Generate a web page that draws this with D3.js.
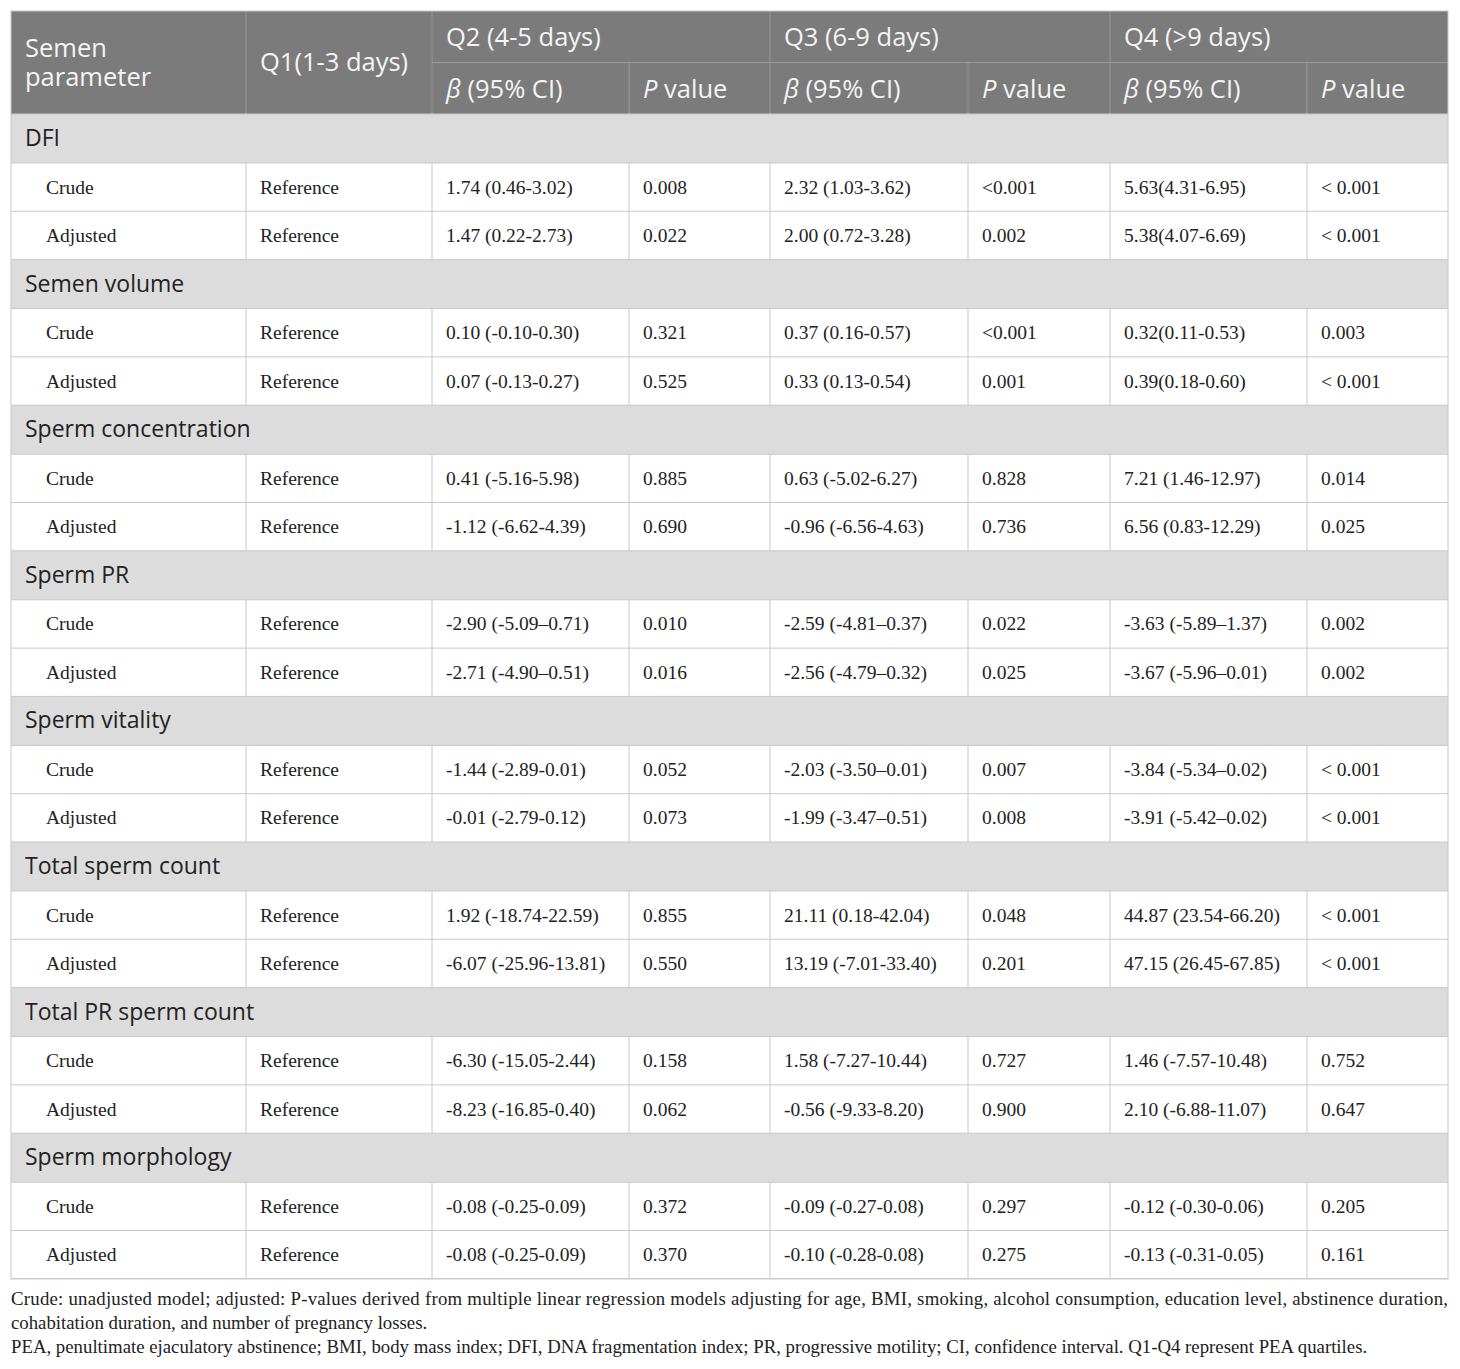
<!DOCTYPE html>
<html>
<head>
<meta charset="utf-8">
<script src="https://d3js.org/d3.v7.min.js"></script>
<style>
  body { margin: 0; background: #fff; }
  .hd { font-family: "Open Sans", sans-serif; font-size: 25.5px; fill: #f4f4f4; }
  .grp { font-family: "Open Sans", sans-serif; font-size: 23px; fill: #222; }
  .cell { font-family: "Liberation Serif", "Times New Roman", serif; font-size: 19.5px; fill: #222; }
  .note { font-family: "Liberation Serif", "Times New Roman", serif; font-size: 18.8px; fill: #222; }
</style>
</head>
<body>
<div id="chart"></div>
<script>
// table content
const parameters = ["DFI", "Semen volume", "Sperm concentration", "Sperm PR",
  "Sperm vitality", "Total sperm count", "Total PR sperm count", "Sperm morphology"];
const models = ["Crude", "Adjusted"];
const quartiles = ["Q2 (4-5 days)", "Q3 (6-9 days)", "Q4 (>9 days)"];

// beta (95% CI) per parameter: [Q2, Q3, Q4]
const crudeBeta = [
  ["1.74 (0.46-3.02)", "2.32 (1.03-3.62)", "5.63(4.31-6.95)"],
  ["0.10 (-0.10-0.30)", "0.37 (0.16-0.57)", "0.32(0.11-0.53)"],
  ["0.41 (-5.16-5.98)", "0.63 (-5.02-6.27)", "7.21 (1.46-12.97)"],
  ["-2.90 (-5.09\u20130.71)", "-2.59 (-4.81\u20130.37)", "-3.63 (-5.89\u20131.37)"],
  ["-1.44 (-2.89-0.01)", "-2.03 (-3.50\u20130.01)", "-3.84 (-5.34\u20130.02)"],
  ["1.92 (-18.74-22.59)", "21.11 (0.18-42.04)", "44.87 (23.54-66.20)"],
  ["-6.30 (-15.05-2.44)", "1.58 (-7.27-10.44)", "1.46 (-7.57-10.48)"],
  ["-0.08 (-0.25-0.09)", "-0.09 (-0.27-0.08)", "-0.12 (-0.30-0.06)"]
];
const crudeP = [
  ["0.008", "<0.001", "< 0.001"],
  ["0.321", "<0.001", "0.003"],
  ["0.885", "0.828", "0.014"],
  ["0.010", "0.022", "0.002"],
  ["0.052", "0.007", "< 0.001"],
  ["0.855", "0.048", "< 0.001"],
  ["0.158", "0.727", "0.752"],
  ["0.372", "0.297", "0.205"]
];
const adjustedBeta = [
  ["1.47 (0.22-2.73)", "2.00 (0.72-3.28)", "5.38(4.07-6.69)"],
  ["0.07 (-0.13-0.27)", "0.33 (0.13-0.54)", "0.39(0.18-0.60)"],
  ["-1.12 (-6.62-4.39)", "-0.96 (-6.56-4.63)", "6.56 (0.83-12.29)"],
  ["-2.71 (-4.90\u20130.51)", "-2.56 (-4.79\u20130.32)", "-3.67 (-5.96\u20130.01)"],
  ["-0.01 (-2.79-0.12)", "-1.99 (-3.47\u20130.51)", "-3.91 (-5.42\u20130.02)"],
  ["-6.07 (-25.96-13.81)", "13.19 (-7.01-33.40)", "47.15 (26.45-67.85)"],
  ["-8.23 (-16.85-0.40)", "-0.56 (-9.33-8.20)", "2.10 (-6.88-11.07)"],
  ["-0.08 (-0.25-0.09)", "-0.10 (-0.28-0.08)", "-0.13 (-0.31-0.05)"]
];
const adjustedP = [
  ["0.022", "0.002", "< 0.001"],
  ["0.525", "0.001", "< 0.001"],
  ["0.690", "0.736", "0.025"],
  ["0.016", "0.025", "0.002"],
  ["0.073", "0.008", "< 0.001"],
  ["0.550", "0.201", "< 0.001"],
  ["0.062", "0.900", "0.647"],
  ["0.370", "0.275", "0.161"]
];
const notes = [
  "Crude: unadjusted model; adjusted: P-values derived from multiple linear regression models adjusting for age, BMI, smoking, alcohol consumption, education level, abstinence duration,",
  "cohabitation duration, and number of pregnancy losses.",
  "PEA, penultimate ejaculatory abstinence; BMI, body mass index; DFI, DNA fragmentation index; PR, progressive motility; CI, confidence interval. Q1-Q4 represent PEA quartiles."
];

// layout
const W = 1460, H = 1369;
const tLeft = 11, tRight = 1448, tTop = 11;
const colWidths = [235, 186, 197, 141, 198, 142, 197, 141];
const headRow = 51.5, groupRow = 49, dataRow = 48.3;
const colX = [tLeft];
colWidths.forEach(w => colX.push(colX[colX.length - 1] + w));

const svg = d3.select("#chart").append("svg")
  .attr("width", W).attr("height", H);

const headBg = "#7b7b7b", headLine = "#9a9a9a", grpBg = "#dcdcdc", lineCol = "#c8c8c8";

// header
const headTop = tTop, headBottom = tTop + 2 * headRow;
svg.append("rect").attr("x", tLeft).attr("y", headTop)
  .attr("width", tRight - tLeft).attr("height", headBottom - headTop).attr("fill", headBg);

const hd = svg.append("g");
[1, 2, 4, 6].forEach(i => hd.append("line")
  .attr("x1", colX[i]).attr("x2", colX[i]).attr("y1", headTop).attr("y2", headBottom)
  .attr("stroke", headLine));
[3, 5, 7].forEach(i => hd.append("line")
  .attr("x1", colX[i]).attr("x2", colX[i]).attr("y1", headTop + headRow).attr("y2", headBottom)
  .attr("stroke", headLine));
hd.append("line").attr("x1", colX[2]).attr("x2", tRight)
  .attr("y1", headTop + headRow).attr("y2", headTop + headRow).attr("stroke", headLine);

// two-line first header, one text element
const sp = hd.append("text").attr("class", "hd").attr("x", tLeft + 14).attr("y", headTop + 46);
sp.append("tspan").attr("x", tLeft + 14).text("Semen");
sp.append("tspan").attr("x", tLeft + 14).attr("dy", 29).text("parameter");

hd.append("text").attr("class", "hd").attr("x", colX[1] + 14).attr("y", headTop + 60).text("Q1(1-3 days)");
quartiles.forEach((q, i) => {
  const x0 = colX[2 + i * 2], x1 = colX[3 + i * 2];
  hd.append("text").attr("class", "hd").attr("x", x0 + 14).attr("y", headTop + 35).text(q);
  const b = hd.append("text").attr("class", "hd").attr("x", x0 + 14).attr("y", headTop + headRow + 35);
  b.append("tspan").attr("font-style", "italic").text("\u03b2");
  b.append("tspan").text(" (95% CI)");
  const p = hd.append("text").attr("class", "hd").attr("x", x1 + 14).attr("y", headTop + headRow + 35);
  p.append("tspan").attr("font-style", "italic").text("P");
  p.append("tspan").text(" value");
});

// body
let y = headBottom;
const body = svg.append("g");
parameters.forEach((name, pi) => {
  body.append("rect").attr("x", tLeft).attr("y", y).attr("width", tRight - tLeft)
    .attr("height", groupRow).attr("fill", grpBg);
  body.append("line").attr("x1", tLeft).attr("x2", tRight).attr("y1", y).attr("y2", y).attr("stroke", lineCol);
  body.append("text").attr("class", "grp").attr("x", tLeft + 14).attr("y", y + 32).text(name);
  y += groupRow;

  models.forEach((m, mi) => {
    const beta = mi === 0 ? crudeBeta[pi] : adjustedBeta[pi];
    const pv = mi === 0 ? crudeP[pi] : adjustedP[pi];
    const cells = [m, "Reference", beta[0], pv[0], beta[1], pv[1], beta[2], pv[2]];
    body.append("line").attr("x1", tLeft).attr("x2", tRight).attr("y1", y).attr("y2", y).attr("stroke", lineCol);
    colX.slice(1, -1).forEach(x => body.append("line")
      .attr("x1", x).attr("x2", x).attr("y1", y).attr("y2", y + dataRow).attr("stroke", lineCol));
    cells.forEach((c, ci) => body.append("text").attr("class", "cell")
      .attr("x", colX[ci] + (ci === 0 ? 35 : 14)).attr("y", y + dataRow / 2 + 6.5).text(c));
    y += dataRow;
  });
});
body.append("line").attr("x1", tLeft).attr("x2", tRight).attr("y1", y).attr("y2", y).attr("stroke", lineCol);

// outer border
svg.append("rect").attr("x", tLeft).attr("y", tTop).attr("width", tRight - tLeft)
  .attr("height", y - tTop).attr("fill", "none").attr("stroke", lineCol);

// footnotes
const nt = svg.append("g");
notes.forEach((n, i) => {
  const t = nt.append("text").attr("class", "note").attr("x", tLeft)
    .attr("y", y + 26 + i * 24).text(n);
  if (i === 0) t.attr("textLength", tRight - tLeft).attr("lengthAdjust", "spacing");
});
</script>
</body>
</html>
